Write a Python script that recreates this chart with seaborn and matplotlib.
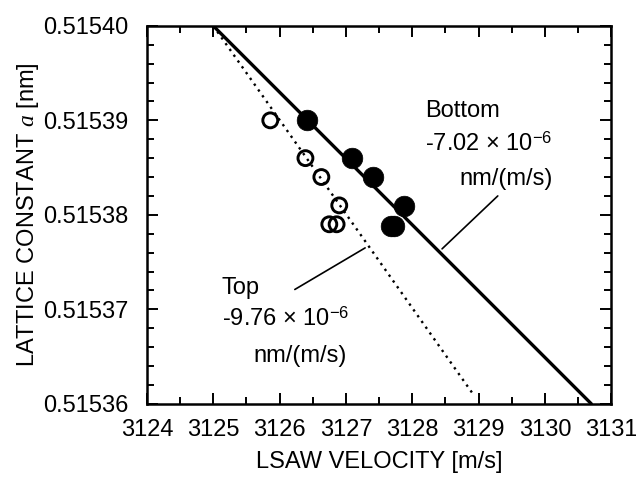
import numpy as np
import pandas as pd
import matplotlib
matplotlib.use("Agg")
import matplotlib.pyplot as plt
import seaborn as sns
from matplotlib.ticker import MultipleLocator, FormatStrFormatter

# ---- data ----
bottom_v = [3126.42, 3127.09, 3127.41, 3127.88, 3127.68, 3127.73]
bottom_a = [0.515390, 0.515386, 0.515384, 0.5153809, 0.5153788, 0.5153788]
top_v = [3125.86, 3126.39, 3126.63, 3126.90, 3126.75, 3126.86]
top_a = [0.515390, 0.515386, 0.515384, 0.5153810, 0.5153790, 0.5153790]
bottom_fit_v = [3125.0, 3130.70]
bottom_fit_a = [0.515400, 0.515360]
top_fit_v = [3125.0, 3128.90]
top_fit_a = [0.515400, 0.5153612]
x_ticks = [3124, 3125, 3126, 3127, 3128, 3129, 3130, 3131]
y_ticks = [0.51536, 0.51537, 0.51538, 0.51539, 0.51540]

sns.set_theme(style="ticks")
plt.rcParams["font.family"] = ["Liberation Sans", "DejaVu Sans"]
plt.rcParams["mathtext.fontset"] = "custom"
plt.rcParams["mathtext.rm"] = "Liberation Sans"
plt.rcParams["mathtext.it"] = "Liberation Serif:italic"
plt.rcParams["text.color"] = "black"
plt.rcParams["axes.labelcolor"] = "black"

fig = plt.figure(figsize=(6.36, 4.79), dpi=100)
ax = fig.add_axes([0.231, 0.157, 0.730, 0.789])

fs = 17

df_b = pd.DataFrame({"v": bottom_v, "a": bottom_a})
df_t = pd.DataFrame({"v": top_v, "a": top_a})
df_bf = pd.DataFrame({"v": bottom_fit_v, "a": bottom_fit_a})
df_tf = pd.DataFrame({"v": top_fit_v, "a": top_fit_a})

sns.lineplot(data=df_bf, x="v", y="a", ax=ax, color="black", lw=2.4, zorder=2)
sns.lineplot(data=df_tf, x="v", y="a", ax=ax, color="black", lw=1.7,
             linestyle=(0, (1, 2.0)), zorder=2)
sns.scatterplot(data=df_b, x="v", y="a", ax=ax, s=220, color="black",
                edgecolor="black", linewidth=0.5, zorder=3)
sns.scatterplot(data=df_t, x="v", y="a", ax=ax, s=115, facecolor="none",
                edgecolor="black", linewidth=2.1, zorder=3)

ax.set_xlim(3124, 3131)
ax.set_ylim(0.51536, 0.51540)
ax.set_xticks(x_ticks)
ax.set_yticks(y_ticks)
ax.xaxis.set_minor_locator(MultipleLocator(0.5))
ax.yaxis.set_minor_locator(MultipleLocator(0.000002))
ax.yaxis.set_major_formatter(FormatStrFormatter("%.5f"))
ax.tick_params(which="both", direction="in", top=True, right=True,
               width=1.4, colors="black", labelsize=fs)
ax.tick_params(which="major", length=8)
ax.tick_params(which="minor", length=5)
ax.tick_params(axis="x", which="major", pad=11)
ax.tick_params(axis="y", which="major", pad=13)
for sp in ax.spines.values():
    sp.set_linewidth(1.8)
    sp.set_color("black")

ax.set_xlabel("LSAW VELOCITY [m/s]", fontsize=fs, labelpad=7)
ax.set_ylabel("LATTICE CONSTANT $a$ [nm]", fontsize=fs, labelpad=2)

# annotations
ax.text(3128.19, 0.5153910, "Bottom", fontsize=fs, va="center", ha="left")
ax.text(3128.19, 0.5153875, "-7.02 \u00d7 10$^{-6}$", fontsize=fs, va="center", ha="left")
ax.text(3130.12, 0.5153838, "nm/(m/s)", fontsize=fs, va="center", ha="right")
ax.plot([3129.29, 3128.45], [0.5153820, 0.5153764], color="black", lw=1.2)

ax.text(3125.13, 0.5153723, "Top", fontsize=fs, va="center", ha="left")
ax.text(3125.13, 0.5153690, "-9.76 \u00d7 10$^{-6}$", fontsize=fs, va="center", ha="left")
ax.text(3126.31, 0.5153651, "nm/(m/s)", fontsize=fs, va="center", ha="center")
ax.plot([3126.23, 3127.29], [0.5153721, 0.5153765], color="black", lw=1.2)

fig.savefig("out.png", dpi=100)
